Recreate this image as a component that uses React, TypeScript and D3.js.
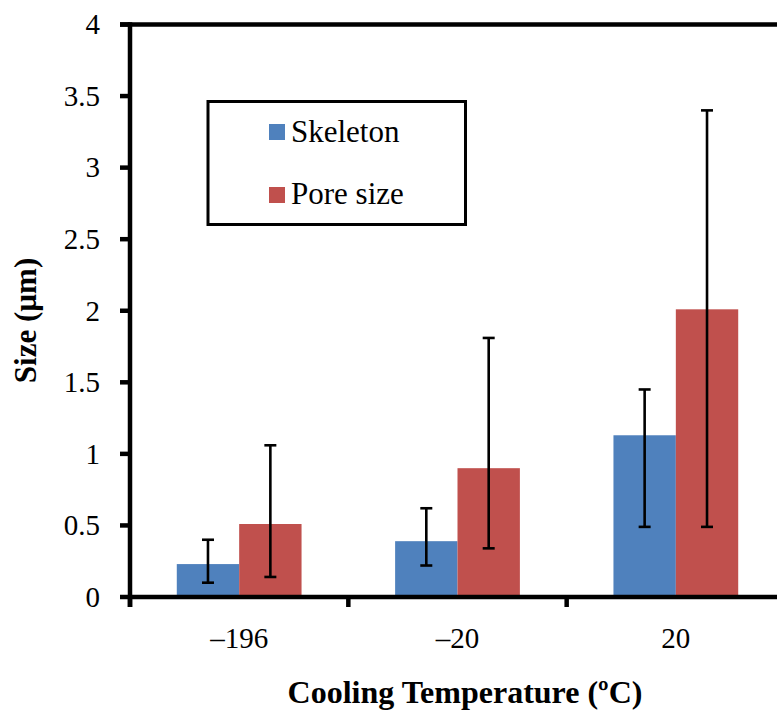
import React from "react";
import * as d3 from "d3";

// Cooling temperatures (°C) on the category axis
const categories = ["–196", "–20", "20"];
const seriesNames = ["Skeleton", "Pore size"];
const seriesColors = ["#4F81BD", "#C0504D"];

// Mean sizes (µm)
const skeletonValues = [0.23, 0.39, 1.13];
const poreValues = [0.51, 0.9, 2.01];

// Error bar extents (µm)
const skeletonLow = [0.1, 0.22, 0.49];
const skeletonHigh = [0.4, 0.62, 1.45];
const poreLow = [0.14, 0.34, 0.49];
const poreHigh = [1.06, 1.81, 3.4];

const yTicks = [0, 0.5, 1, 1.5, 2, 2.5, 3, 3.5, 4];

const W = 777;
const H = 713;
const FONT = "'Liberation Serif', 'Times New Roman', serif";

export default function App() {
  const left = 130;
  const right = 785;
  const top = 24.5;
  const bottom = 597;

  const x = d3.scaleBand<string>().domain(categories).range([left, right]).padding(0);
  const inner = d3
    .scaleBand<string>()
    .domain(seriesNames)
    .range([0, x.bandwidth()])
    .paddingInner(0)
    .paddingOuter(0.75);
  const y = d3.scaleLinear().domain([0, 4]).range([bottom, top]);

  const series = [
    { name: seriesNames[0], values: skeletonValues, lo: skeletonLow, hi: skeletonHigh, color: seriesColors[0] },
    { name: seriesNames[1], values: poreValues, lo: poreLow, hi: poreHigh, color: seriesColors[1] },
  ];

  const boundaries = [...categories.map((c) => x(c)!), right];
  const capHalf = 6;
  const axisW = 4.5;

  return (
    <svg width={W} height={H} style={{ display: "block", position: "absolute", left: 0, top: 0 }}>
      <rect width={W} height={H} fill="#fff" />

      {/* bars */}
      {series.map((s) =>
        categories.map((c, i) => (
          <rect
            key={s.name + c}
            x={x(c)! + inner(s.name)!}
            y={y(s.values[i])}
            width={inner.bandwidth()}
            height={y(0) - y(s.values[i])}
            fill={s.color}
          />
        ))
      )}

      {/* error bars */}
      {series.map((s) =>
        categories.map((c, i) => {
          const cx = x(c)! + inner(s.name)! + inner.bandwidth() / 2;
          return (
            <g key={"e" + s.name + c} stroke="#000" strokeWidth={2.6}>
              <line x1={cx} x2={cx} y1={y(s.hi[i])} y2={y(s.lo[i])} />
              <line x1={cx - capHalf} x2={cx + capHalf} y1={y(s.hi[i])} y2={y(s.hi[i])} />
              <line x1={cx - capHalf} x2={cx + capHalf} y1={y(s.lo[i])} y2={y(s.lo[i])} />
            </g>
          );
        })
      )}

      {/* plot frame and axes */}
      <line x1={left - 10} x2={right} y1={top} y2={top} stroke="#000" strokeWidth={axisW} />
      <line x1={right} x2={right} y1={top} y2={bottom} stroke="#000" strokeWidth={axisW} />
      <line x1={left} x2={left} y1={top - axisW / 2} y2={bottom + 10} stroke="#000" strokeWidth={axisW} />
      <line x1={left - 2} x2={right} y1={bottom} y2={bottom} stroke="#000" strokeWidth={axisW} />

      {/* y ticks */}
      {yTicks.map((t) => (
        <g key={"yt" + t}>
          <line x1={left - 10} x2={left} y1={y(t)} y2={y(t)} stroke="#000" strokeWidth={axisW} />
          <text
            x={100}
            y={y(t)}
            dy="0.34em"
            textAnchor="end"
            fontFamily={FONT}
            fontSize={29}
            fill="#000"
          >
            {t}
          </text>
        </g>
      ))}

      {/* x ticks */}
      {boundaries.map((b, i) => (
        <line key={"xt" + i} x1={b} x2={b} y1={bottom} y2={bottom + 10} stroke="#000" strokeWidth={axisW} />
      ))}
      {categories.map((c) => (
        <text
          key={"xl" + c}
          x={x(c)! + x.bandwidth() / 2}
          y={648}
          textAnchor="middle"
          fontFamily={FONT}
          fontSize={29}
          fill="#000"
        >
          {c}
        </text>
      ))}

      {/* axis titles */}
      <text
        x={465}
        y={703}
        textAnchor="middle"
        fontFamily={FONT}
        fontSize={32}
        fontWeight="bold"
        fill="#000"
      >
        Cooling Temperature (ºC)
      </text>
      <text
        transform={`translate(36, 320.5) rotate(-90)`}
        textAnchor="middle"
        fontFamily={FONT}
        fontSize={31}
        fontWeight="bold"
        fill="#000"
      >
        Size (µm)
      </text>

      {/* legend */}
      <rect x={208} y={101.5} width={257.5} height={123} fill="#fff" stroke="#000" strokeWidth={3} />
      {series.map((s, i) => (
        <g key={"lg" + s.name}>
          <rect x={269} y={124 + i * 63} width={16} height={16} fill={s.color} />
          <text x={291} y={141.5 + i * 62.5} fontFamily={FONT} fontSize={31} fill="#000">
            {s.name}
          </text>
        </g>
      ))}
    </svg>
  );
}
